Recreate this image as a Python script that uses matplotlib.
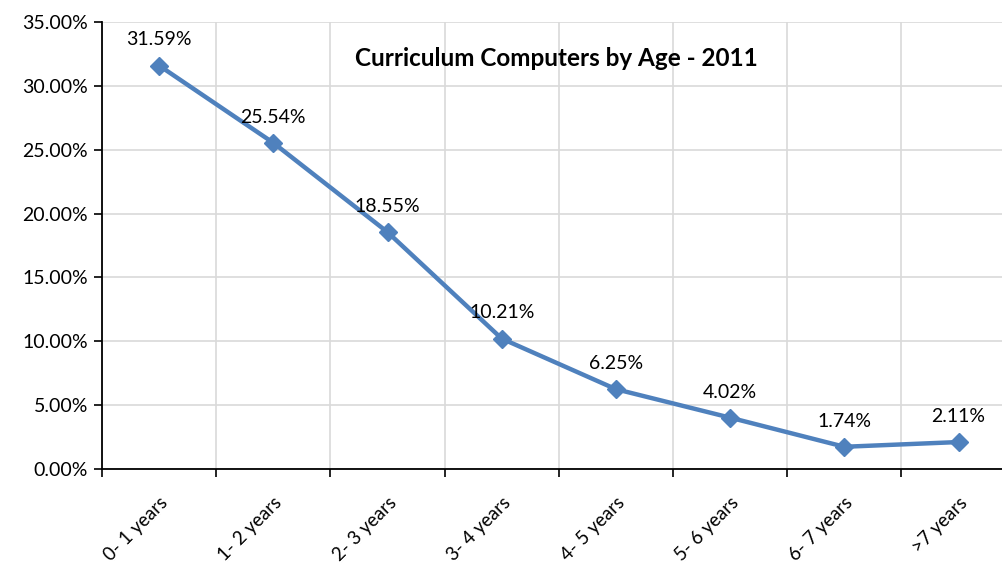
import matplotlib
matplotlib.use("Agg")
import matplotlib.pyplot as plt
from matplotlib.ticker import FuncFormatter, FixedLocator

categories = ["0- 1 years", "1- 2 years", "2- 3 years", "3- 4 years",
              "4- 5 years", "5- 6 years", "6- 7 years", ">7 years"]
values = [31.59, 25.54, 18.55, 10.21, 6.25, 4.02, 1.74, 2.11]
title = "Curriculum Computers by Age - 2011"

plt.rcParams['font.family'] = ['Lato', 'DejaVu Sans']

W, H = 1002, 567
fig = plt.figure(figsize=(W / 100, H / 100), dpi=100)
left, right, top, bottom = 102, 1002, 22, 469
ax = fig.add_axes([left / W, 1 - bottom / H, (right - left) / W, (bottom - top) / H])

x = list(range(len(categories)))
color = "#4F81BD"
ax.plot(x, values, color=color, lw=3.2, marker="D", ms=9, mec=color, mfc=color, zorder=3,
        clip_on=False)

fs = 14
for xi, v in zip(x, values):
    ax.annotate(f"{v:.2f}%", (xi, v), xytext=(0, 14.5), textcoords="offset points",
                ha="center", va="baseline", fontsize=fs, color="black")

cat_w = 114.2
ax.set_xlim(-0.5, -0.5 + (right - left) / cat_w)
ax.set_ylim(0, 35)

ax.set_yticks([0, 5, 10, 15, 20, 25, 30, 35])
ax.yaxis.set_major_formatter(FuncFormatter(lambda v, p: f"{v:.2f}%"))
ax.xaxis.set_major_locator(FixedLocator([i - 0.5 for i in range(len(categories))]))
ax.set_xticklabels([])
ax.xaxis.set_minor_locator(FixedLocator(x))
ax.set_xticklabels(categories, minor=True, rotation=45, ha="right", va="top",
                   rotation_mode="anchor", fontsize=13.5)
ax.tick_params(axis="x", which="minor", length=0, pad=18)
ax.tick_params(axis="x", which="major", length=6, width=1.2, direction="out")
ax.tick_params(axis="y", length=6, width=1.2, direction="out", labelsize=fs, pad=4)

ax.grid(True, which="major", color="#D9D9D9", lw=1.2)
ax.set_axisbelow(True)
for s in ["top", "right"]:
    ax.spines[s].set_visible(False)
for s in ["left", "bottom"]:
    ax.spines[s].set_linewidth(1.3)
    ax.spines[s].set_color("black")

fig.text(556 / W, 1 - 59 / H, title, ha="center", va="center", fontsize=17.5,
         fontweight="bold")

fig.savefig("out.png", dpi=100)
